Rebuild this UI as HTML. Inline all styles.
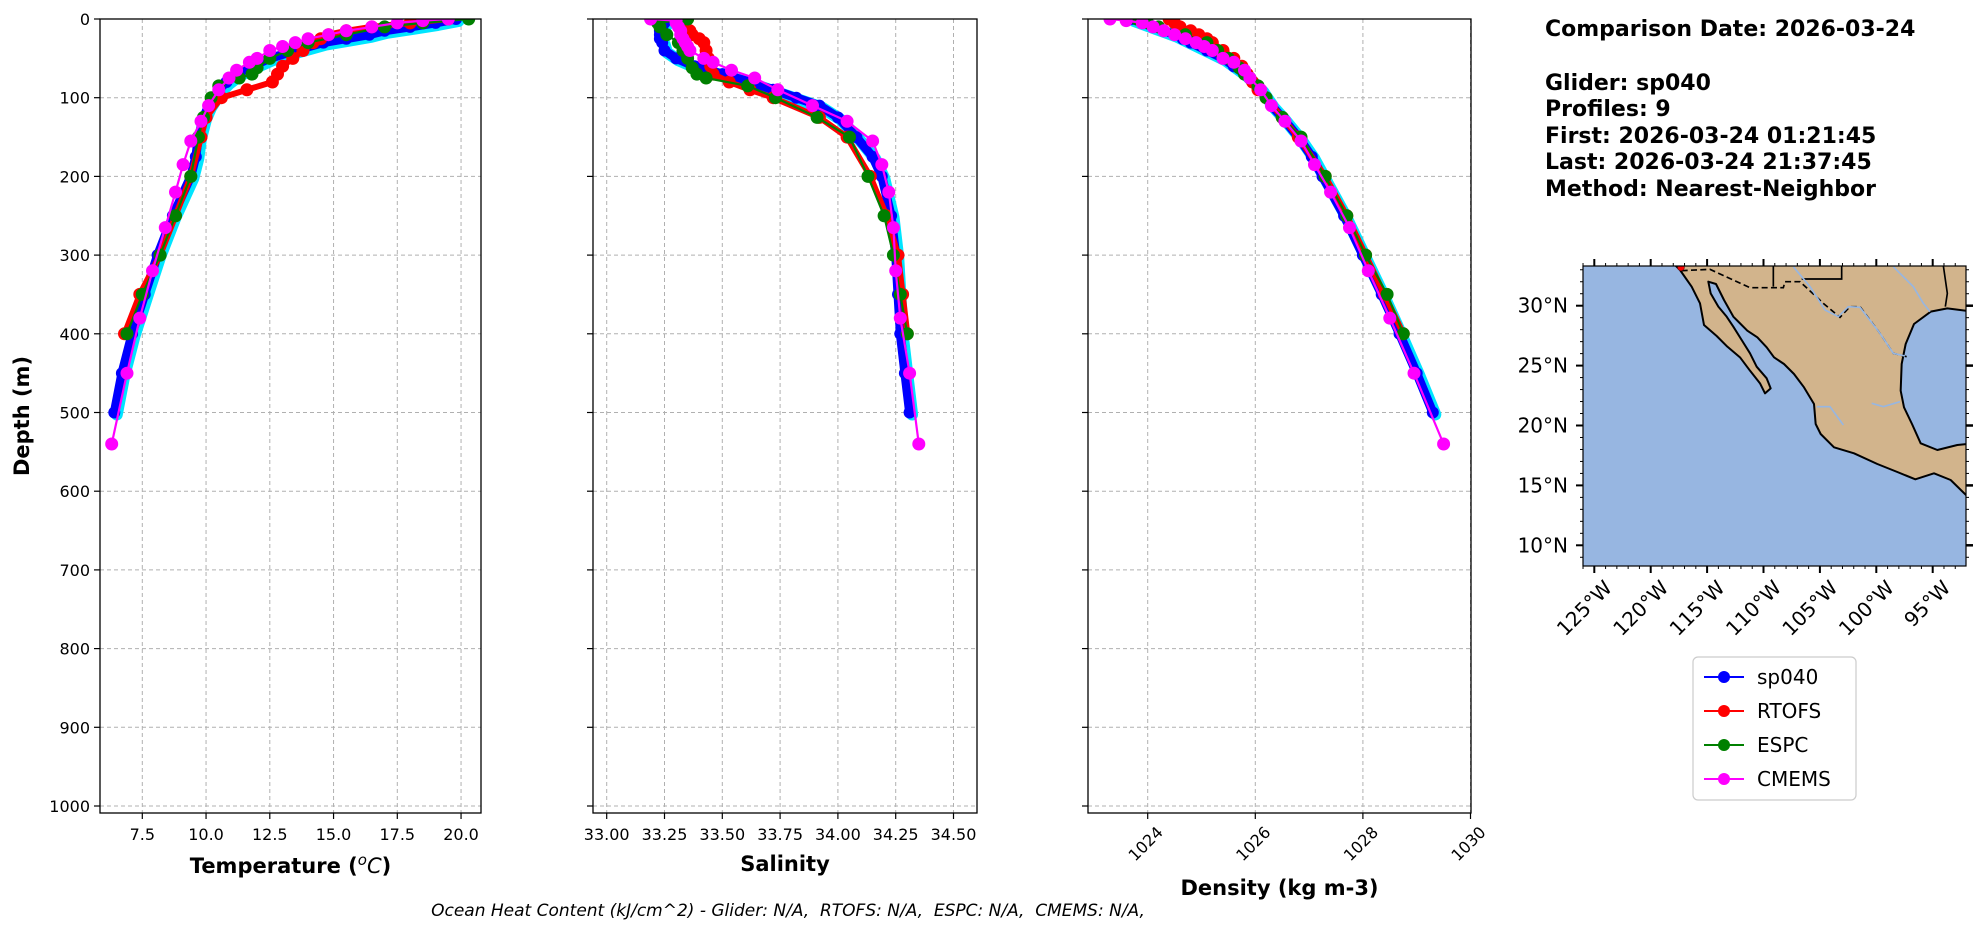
<!DOCTYPE html>
<html><head><meta charset="utf-8"><style>
body{margin:0;background:#fff;}
svg{display:block;font-family:"DejaVu Sans","Liberation Sans",sans-serif;}
</style></head><body>
<svg id="fig" width="1978" height="934" viewBox="0 0 1978 934" xmlns="http://www.w3.org/2000/svg">
<g id="panels"></g>
<g id="map">
  <defs><clipPath id="mapclip"><rect x="1583" y="266" width="383" height="300"/></clipPath></defs>
  <rect x="1583" y="266" width="383" height="300" fill="#97b6e1"/>
  <g clip-path="url(#mapclip)">
  <g transform="translate(1500,250) scale(0.3333333)">
    <path fill="#d2b48c" stroke="#000" stroke-width="6" stroke-linejoin="round" d="M520,40 L540,60 L575,110 L600,160 L612,225 L650,258 L682,290 L720,322 L750,362 L780,400 L795,430 L812,415 L800,385 L770,350 L750,310 L725,270 L700,230 L680,200 L655,170 L632,130 L625,95 L648,102 L672,150 L700,200 L716,216 L742,242 L772,262 L800,292 L822,322 L852,342 L882,372 L912,412 L942,462 L947,522 L962,552 L1002,592 L1062,610 L1132,642 L1192,666 L1246,688 L1302,670 L1352,690 L1398,735 L1420,735 L1420,580 L1372,585 L1312,600 L1262,580 L1236,522 L1212,472 L1202,422 L1205,342 L1217,282 L1242,222 L1292,185 L1342,175 L1420,185 L1420,30 L520,30 Z"/>
    <path fill="none" stroke="#000" stroke-width="5" stroke-dasharray="18,10" d="M545,62 L630,58 L750,113 L850,113 L855,95 L900,95 L970,160 L1020,202 L1050,170 L1080,170 L1140,250 L1180,310 L1220,320"/>
    <path fill="none" stroke="#000" stroke-width="5" d="M820,47 L820,110 M905,87 L1025,87 L1025,47 M1330,47 L1342,130 L1336,170"/>
    <path fill="none" stroke="#97b6e1" stroke-width="5" d="M880,50 L930,110 L975,180 L1015,200 L1045,170 L1080,172 L1140,250 L1180,310 L1215,318 M1115,460 L1150,470 L1200,455 M950,470 L990,470 L1030,525 M1180,50 L1240,110 L1270,160 L1290,185"/>
    <circle cx="543" cy="52" r="10" fill="#ff0000" stroke="#800" stroke-width="2"/>
  </g>
  </g>
  <rect x="1583" y="266" width="383" height="300" fill="none" stroke="#000" stroke-width="1.2"/>
  <g id="mapticks"></g>
</g>
<g font-weight="bold" font-size="22" fill="#000">
  <text x="1545" y="36">Comparison Date: 2026-03-24</text>
  <text x="1545" y="90">Glider: sp040</text>
  <text x="1545" y="116">Profiles: 9</text>
  <text x="1545" y="143">First: 2026-03-24 01:21:45</text>
  <text x="1545" y="169">Last: 2026-03-24 21:37:45</text>
  <text x="1545" y="196">Method: Nearest-Neighbor</text>
</g>
<g>
  <rect x="1693" y="657" width="163" height="143" rx="5" fill="#fff" stroke="#ccc" stroke-width="1.2"/>
  <g><line x1="1704" y1="677" x2="1744" y2="677" stroke="#0000ff" stroke-width="2"/><circle cx="1724" cy="677" r="6" fill="#0000ff"/><text x="1757" y="684" font-size="20">sp040</text></g>
  <g><line x1="1704" y1="711" x2="1744" y2="711" stroke="#ff0000" stroke-width="2"/><circle cx="1724" cy="711" r="6" fill="#ff0000"/><text x="1757" y="718" font-size="20">RTOFS</text></g>
  <g><line x1="1704" y1="745" x2="1744" y2="745" stroke="#008000" stroke-width="2"/><circle cx="1724" cy="745" r="6" fill="#008000"/><text x="1757" y="752" font-size="20">ESPC</text></g>
  <g><line x1="1704" y1="779" x2="1744" y2="779" stroke="#ff00ff" stroke-width="2"/><circle cx="1724" cy="779" r="6" fill="#ff00ff"/><text x="1757" y="786" font-size="20">CMEMS</text></g>
</g>
<text x="290.5" y="873" font-size="21" font-weight="bold" text-anchor="middle">Temperature (<tspan font-weight="normal" font-style="italic" font-size="15" dy="-8">o</tspan><tspan font-weight="normal" font-style="italic" dy="8">C</tspan>)</text>
<text x="788" y="916" font-size="17" font-style="italic" text-anchor="middle" xml:space="preserve" style="white-space:pre">Ocean Heat Content (kJ/cm^2) - Glider: N/A,  RTOFS: N/A,  ESPC: N/A,  CMEMS: N/A,</text>
</svg>
<script>
// ---- data ----
const depthTicks = [0,100,200,300,400,500,600,700,800,900,1000];
const tempTicks = [7.5,10.0,12.5,15.0,17.5,20.0];
const salTicks = [33.00,33.25,33.50,33.75,34.00,34.25,34.50];
const denTicks = [1024,1026,1028,1030];

const gliderDepth = [0,5,10,15,20,25,30,40,50,60,70,80,90,100,110,125,150,175,200,250,300,350,400,450,500];
const gliderTemp = [19.8,19.0,18.0,17.0,16.4,15.5,14.6,13.5,12.5,11.8,11.2,10.8,10.5,10.3,10.1,9.9,9.7,9.6,9.4,8.7,8.1,7.6,7.1,6.7,6.4];
const gliderSal = [33.27,33.25,33.24,33.23,33.23,33.23,33.24,33.25,33.3,33.38,33.5,33.62,33.72,33.82,33.92,34.0,34.08,34.15,34.19,34.23,34.25,34.26,34.27,34.29,34.31];
const gliderDen = [1023.7,1023.9,1024.1,1024.3,1024.5,1024.65,1024.8,1025.1,1025.4,1025.6,1025.8,1025.95,1026.1,1026.2,1026.3,1026.5,1026.8,1027.05,1027.25,1027.65,1028.0,1028.35,1028.68,1029.0,1029.3];

const rtofsDepth = [0,5,10,15,20,25,30,40,50,60,70,80,90,100,125,150,200,250,300,350,400];
const rtofsTemp = [19.5,18.0,16.5,15.5,14.8,14.5,14.2,13.8,13.4,13.0,12.8,12.6,11.6,10.6,10.0,9.8,9.4,8.8,8.2,7.4,6.8];
const rtofsSal = [33.3,33.32,33.33,33.36,33.37,33.4,33.42,33.43,33.44,33.45,33.46,33.53,33.62,33.72,33.92,34.04,34.14,34.21,34.26,34.28,34.3];
const rtofsDen = [1024.4,1024.5,1024.6,1024.8,1024.95,1025.1,1025.2,1025.4,1025.6,1025.75,1025.85,1025.95,1026.05,1026.2,1026.5,1026.8,1027.3,1027.7,1028.05,1028.4,1028.75];

const espcDepth = [0,5,10,20,30,40,50,62,70,75,85,100,125,150,200,250,300,350,400];
const espcTemp = [20.3,18.5,17.0,15.5,14.0,13.2,12.5,12.0,11.8,11.3,10.5,10.2,9.9,9.7,9.4,8.8,8.2,7.5,6.9];
const espcSal = [33.35,33.22,33.23,33.26,33.31,33.33,33.35,33.37,33.39,33.43,33.61,33.73,33.91,34.05,34.13,34.2,34.24,34.27,34.3];
const espcDen = [1023.8,1024.0,1024.2,1024.7,1025.1,1025.3,1025.5,1025.7,1025.8,1025.9,1026.05,1026.2,1026.5,1026.85,1027.3,1027.7,1028.05,1028.45,1028.75];

const cmemsDepth = [0,2,5,10,15,20,25,30,35,40,50,55,65,75,90,110,130,155,185,220,265,320,380,450,540];
const cmemsTemp = [19.5,18.5,17.5,16.5,15.5,14.8,14.0,13.5,13.0,12.5,12.0,11.7,11.2,10.9,10.5,10.1,9.8,9.4,9.1,8.8,8.4,7.9,7.4,6.9,6.3];
const cmemsSal = [33.19,33.3,33.3,33.31,33.32,33.32,33.33,33.34,33.35,33.36,33.42,33.46,33.54,33.64,33.74,33.89,34.04,34.15,34.19,34.22,34.24,34.25,34.27,34.31,34.35];
const cmemsDen = [1023.3,1023.6,1023.9,1024.1,1024.3,1024.5,1024.7,1024.9,1025.05,1025.2,1025.4,1025.6,1025.8,1025.9,1026.1,1026.3,1026.55,1026.85,1027.1,1027.4,1027.75,1028.1,1028.5,1028.95,1029.5];

const mapLatTicks = [30,25,20,15,10];
const mapLonTicks = [-125,-120,-115,-110,-105,-100,-95];

// ---- scales ----
const NS = "http://www.w3.org/2000/svg";
const Y0 = 19, Y1 = 813;
function yScale(d){ return Y0 + d*0.787; }
const panels = [
  {key:'temperature', x0:100, x1:481, ref:7.5, refX:142.3, k:25.5, ticks:tempTicks, fmt:v=>v.toFixed(1), title:null, rot:false, labelY:true},
  {key:'salinity', x0:593, x1:977, ref:33.0, refX:606.7, k:231.2, ticks:salTicks, fmt:v=>v.toFixed(2), title:'Salinity', rot:false, labelY:false},
  {key:'density', x0:1088, x1:1471, ref:1024, refX:1147.7, k:53.8, ticks:denTicks, fmt:v=>String(v), title:'Density (kg m-3)', rot:true, labelY:false}
];
function mk(tag, attrs, parent){
  const e = document.createElementNS(NS, tag);
  for (const a in attrs) e.setAttribute(a, attrs[a]);
  if (parent) parent.appendChild(e);
  return e;
}
const root = document.getElementById('panels');
const seriesDefs = [
  {name:'sp040', depth:gliderDepth, vals:{temperature:gliderTemp, salinity:gliderSal, density:gliderDen}, color:'#0000ff', halo:'#00e5ff', lw:9, r:6},
  {name:'rtofs', depth:rtofsDepth, vals:{temperature:rtofsTemp, salinity:rtofsSal, density:rtofsDen}, color:'#ff0000', halo:null, lw:6, r:6.5},
  {name:'espc', depth:espcDepth, vals:{temperature:espcTemp, salinity:espcSal, density:espcDen}, color:'#008000', halo:null, lw:2.2, r:6.5},
  {name:'cmems', depth:cmemsDepth, vals:{temperature:cmemsTemp, salinity:cmemsSal, density:cmemsDen}, color:'#ff00ff', halo:null, lw:2.2, r:6.5}
];

panels.forEach(p => {
  const xs = v => p.refX + (v - p.ref)*p.k;
  const g = mk('g', {}, root);
  
  
  const clipId = 'clip-' + p.key;
  const cp = mk('clipPath', {id:clipId}, g);
  mk('rect', {x:p.x0, y:Y0, width:p.x1-p.x0, height:Y1-Y0}, cp);
  p.ticks.forEach(t => {
    const x = xs(t);
    const gl = mk('line', {x1:x, x2:x, y1:Y0, y2:Y1, stroke:'#b0b0b0', 'stroke-width':1, 'stroke-dasharray':'4,3'}, g);
    
    
  });
  depthTicks.forEach(d => {
    const y = yScale(d);
    const gl = mk('line', {x1:p.x0, x2:p.x1, y1:y, y2:y, stroke:'#b0b0b0', 'stroke-width':1, 'stroke-dasharray':'4,3'}, g);
    
    
    mk('line', {x1:p.x0-6, x2:p.x0, y1:y, y2:y, stroke:'#000', 'stroke-width':1.2}, g);
    if (p.labelY) {
      const t = mk('text', {x:p.x0-10, y:y+6, 'text-anchor':'end', 'font-size':16}, g);
      t.textContent = d;
      
      
    }
  });
  const sg = mk('g', {'clip-path':'url(#'+clipId+')'}, g);
  seriesDefs.forEach(s => {
    const vals = s.vals[p.key];
    const pts = vals.map((v,i) => [xs(v), yScale(s.depth[i])]);
    const ptsStr = pts.map(q => q[0].toFixed(1)+','+q[1].toFixed(1)).join(' ');
    const grp = mk('g', {}, sg);
    
    
    if (s.halo) {
      mk('polyline', {points:pts.map(q => (q[0]+2.5).toFixed(1)+','+(q[1]+2).toFixed(1)).join(' '), fill:'none', stroke:s.halo, 'stroke-width':s.lw+3, 'stroke-linejoin':'round', 'stroke-linecap':'round'}, grp);
    }
    const line = mk('polyline', {points:ptsStr, fill:'none', stroke:s.color, 'stroke-width':s.lw, 'stroke-linejoin':'round', 'stroke-linecap':'round'}, grp);
    
    
    pts.forEach(q => {
      const c = mk('circle', {cx:q[0].toFixed(1), cy:q[1].toFixed(1), r:s.r, fill:s.color}, grp);
      
      
    });
  });
  const fr = mk('rect', {x:p.x0, y:Y0, width:p.x1-p.x0, height:Y1-Y0, fill:'none', stroke:'#000', 'stroke-width':1.3}, g);
  
  
  p.ticks.forEach(t => {
    const x = xs(t);
    mk('line', {x1:x, x2:x, y1:Y1, y2:Y1+6, stroke:'#000', 'stroke-width':1.2}, g);
    let lbl;
    if (p.rot) {
      lbl = mk('text', {x:x+12, y:Y1+22, 'text-anchor':'end', 'font-size':16, transform:'rotate(-45 '+(x+12)+' '+(Y1+16)+')'}, g);
    } else {
      lbl = mk('text', {x:x, y:Y1+27, 'text-anchor':'middle', 'font-size':16}, g);
    }
    lbl.textContent = p.fmt(t);
    
    
  });
  if (p.title) {
    const title = mk('text', {x:(p.x0+p.x1)/2, y: p.rot ? 895 : 871, 'text-anchor':'middle', 'font-size':21, 'font-weight':'bold'}, g);
    title.textContent = p.title;
    
    
  }
});
const yt = mk('text', {x:0, y:0, 'text-anchor':'middle', 'font-size':21, 'font-weight':'bold', transform:'translate(29,416) rotate(-90)'}, root);
yt.textContent = 'Depth (m)';



const mt = document.getElementById('mapticks');
const latY = lat => 305.7 + (30 - lat)*11.98;
const lonX = lon => 1594.3 + (lon + 125)*11.28;
mapLatTicks.forEach(lat => {
  const y = latY(lat);
  mk('line', {x1:1576, x2:1583, y1:y, y2:y, stroke:'#000', 'stroke-width':2}, mt);
  mk('line', {x1:1966, x2:1973, y1:y, y2:y, stroke:'#000', 'stroke-width':2.5}, mt);
  const t = mk('text', {x:1568, y:y+7, 'text-anchor':'end', 'font-size':20}, mt);
  t.textContent = lat + '°N';
  
  
});
for (let lat = 9; lat <= 33; lat++) {
  const y = latY(lat);
  mk('line', {x1:1580, x2:1583, y1:y, y2:y, stroke:'#000', 'stroke-width':1}, mt);
  mk('line', {x1:1966, x2:1969, y1:y, y2:y, stroke:'#000', 'stroke-width':1}, mt);
}
for (let lon = -126; lon <= -93; lon++) {
  const x = lonX(lon);
  mk('line', {x1:x, x2:x, y1:566, y2:569, stroke:'#000', 'stroke-width':1}, mt);
  mk('line', {x1:x, x2:x, y1:263, y2:266, stroke:'#000', 'stroke-width':1}, mt);
}
mapLonTicks.forEach(lon => {
  const x = lonX(lon);
  mk('line', {x1:x, x2:x, y1:566, y2:573, stroke:'#000', 'stroke-width':2}, mt);
  mk('line', {x1:x, x2:x, y1:259, y2:266, stroke:'#000', 'stroke-width':2}, mt);
  const ax = x + 14, ay = 584;
  const t = mk('text', {x:ax, y:ay+7, 'text-anchor':'end', 'font-size':20, transform:'rotate(-45 '+ax+' '+ay+')'}, mt);
  t.textContent = (-lon) + '°W';
  
  
});
</script>
</body></html>
